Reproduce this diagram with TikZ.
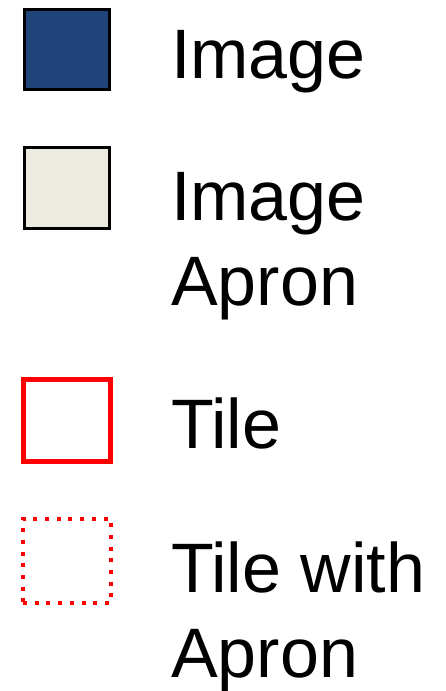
\documentclass[tikz,border=0pt]{standalone}
\usepackage{fontspec}
\setmainfont{Liberation Sans}
\usetikzlibrary{positioning}
\definecolor{imageblue}{RGB}{31,69,122}
\definecolor{apronbeige}{RGB}{237,235,224}

\begin{document}
\begin{tikzpicture}[
  x=1pt,y=1pt,
  keybox/.style={draw,inner sep=0pt,minimum width=85pt,minimum height=80pt},
  tilebox/.style={draw=red,inner sep=0pt,minimum width=87pt,minimum height=82pt},
  legtext/.style={anchor=base west,inner sep=0pt,align=left,
                  font=\fontsize{70}{85}\selectfont}
]
\useasboundingbox (0,0) rectangle (445,-691);

\node[keybox,line width=3pt,fill=imageblue] (image) at (67,-49.5) {};
\node[keybox,line width=3pt,fill=apronbeige,minimum height=81pt] (apron) at (67,-188) {};
\node[tilebox,line width=5pt] (tile) at (67,-420.5) {};
\node[tilebox,line width=4pt,dash pattern=on 4pt off 7.7pt,
      minimum width=88pt,minimum height=84pt] (tileapron) at (67,-561) {};

% base anchor of a two-line label is its last line
\node[legtext] (imagetxt) at (171,-78) {Image};
\node[legtext] (aprontxt) at (171,-305) {Image\\Apron};
\node[legtext] (tiletxt) at (171,-448) {Tile};
\node[legtext] (tileaprontxt) at (171,-677) {Tile with\\Apron};
\end{tikzpicture}
\end{document}
